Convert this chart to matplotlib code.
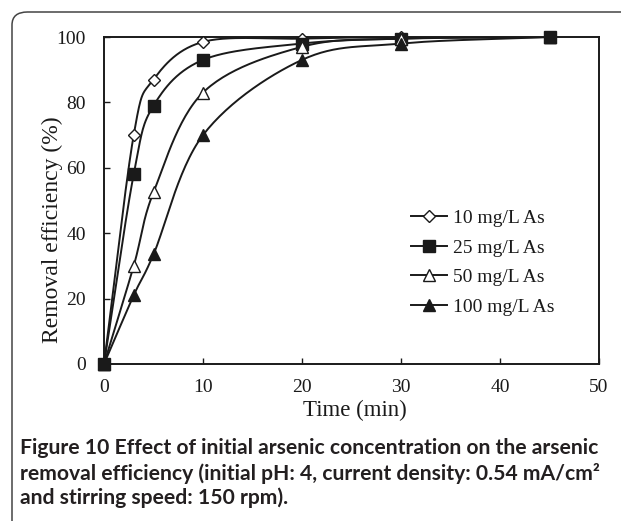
import numpy as np
import matplotlib
matplotlib.use("Agg")
import matplotlib.pyplot as plt
from matplotlib.patches import FancyBboxPatch

time_min = [0, 3, 5, 10, 20, 30, 45]
series_labels = ["10 mg/L As", "25 mg/L As", "50 mg/L As", "100 mg/L As"]
eff_10 = [0, 70, 87, 98.5, 99.5, 100, 100]
eff_25 = [0, 58, 79, 93, 98, 99.5, 100]
eff_50 = [0, 30, 52.5, 83, 97, 99.5, 100]
eff_100 = [0, 21, 33.5, 70, 93, 98, 100]
x_ticks = [0, 10, 20, 30, 40, 50]
y_ticks = [0, 20, 40, 60, 80, 100]


def smooth(xs, ys, n=30):
    xs = np.asarray(xs, float)
    ys = np.asarray(ys, float)
    px = np.concatenate([[2 * xs[0] - xs[1]], xs, [2 * xs[-1] - xs[-2]]])
    py = np.concatenate([[2 * ys[0] - ys[1]], ys, [2 * ys[-1] - ys[-2]]])
    outx, outy = [], []
    for i in range(1, len(px) - 2):
        t = np.linspace(0, 1, n, endpoint=(i == len(px) - 3))
        p0, p1, p2, p3 = [np.array([px[j], py[j]]) for j in (i - 1, i, i + 1, i + 2)]
        c1 = p1 + (p2 - p0) / 6.0
        c2 = p2 - (p3 - p1) / 6.0
        tt = t[:, None]
        pts = ((1 - tt) ** 3) * p1 + 3 * ((1 - tt) ** 2) * tt * c1 + 3 * (1 - tt) * tt ** 2 * c2 + tt ** 3 * p2
        outx.extend(pts[:, 0])
        outy.extend(pts[:, 1])
    return np.array(outx), np.array(outy)


plt.rcParams['font.family'] = ['Liberation Serif', 'DejaVu Serif']
fig = plt.figure(figsize=(6.21, 5.21), dpi=100)

frame = FancyBboxPatch((12 / 621, -0.2), 1.2, 1 - 12 / 521 + 0.2,
                       boxstyle="round,pad=0,rounding_size=0.025",
                       transform=fig.transFigure, fill=False,
                       edgecolor='#444444', linewidth=1.1)
fig.patches.append(frame)

ax = fig.add_axes([104 / 621, 1 - 364 / 521, 495 / 621, 327 / 521])

styles = [
    dict(marker='D', mfc='white', ms=6.5),
    dict(marker='s', mfc='#1a1a1a', ms=8.0),
    dict(marker='^', mfc='white', ms=8.5),
    dict(marker='^', mfc='#1a1a1a', ms=8.5),
]
data = [eff_10, eff_25, eff_50, eff_100]
for ys, lab, st in zip(data, series_labels, styles):
    sx, sy = smooth(time_min, ys)
    ax.plot(sx, sy, color='#1a1a1a', lw=1.4, zorder=2)
    ax.plot(time_min, ys, linestyle='none', marker=st['marker'], mfc=st['mfc'],
            mec='#1a1a1a', mew=1.0, ms=st['ms'], zorder=3, clip_on=False)
    ax.plot([], [], color='#1a1a1a', lw=1.4, marker=st['marker'], mfc=st['mfc'],
            mec='#1a1a1a', mew=1.0, ms=st['ms'], label=lab)

ax.set_xlim(0, 50)
ax.set_ylim(0, 100)
ax.set_xticks(x_ticks)
ax.set_yticks(y_ticks)
ax.tick_params(direction='in', length=4, width=1.0, labelsize=14, colors='#1a1a1a')
ax.tick_params(axis='x', pad=10.5)
ax.tick_params(axis='y', pad=13)
for s in ax.spines.values():
    s.set_linewidth(1.4)
    s.set_color('#1a1a1a')
ax.set_xlabel("Time (min)", fontsize=16.5, color='#1a1a1a')
ax.set_ylabel("Removal efficiency (%)", fontsize=17, color='#1a1a1a')
ax.xaxis.set_label_coords(0.507, -0.11)
ax.yaxis.set_label_coords(-0.083, 0.41)

leg = ax.legend(loc='center left', bbox_to_anchor=(0.62, 0.31), frameon=False,
                fontsize=14, handlelength=1.85, handletextpad=0.3, labelspacing=0.62,
                borderpad=0, borderaxespad=0)
for t in leg.get_texts():
    t.set_color('#1a1a1a')

cap_font = ['Lato', 'DejaVu Sans']
lines = ["Figure 10 Effect of initial arsenic concentration on the arsenic",
         "removal efficiency (initial pH: 4, current density: 0.54 mA/cm\u00b2",
         "and stirring speed: 150 rpm)."]
for i, ln in enumerate(lines):
    fig.text(20 / 621, 1 - (448 + 25 * i) / 521, ln, family=cap_font, fontweight='bold',
             fontsize=15.2, color='#231f20', va='center', ha='left')

fig.savefig("out.png", dpi=100)
